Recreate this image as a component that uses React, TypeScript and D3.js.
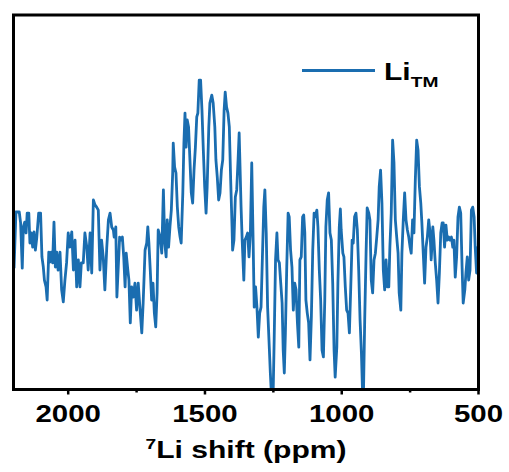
import React from "react";
import * as d3 from "d3";

// 7Li shift (ppm)
const shiftPpm: number[] = [
  2198, 2191, 2179, 2174, 2168, 2164, 2159, 2154, 2150, 2144,
  2140, 2135, 2130, 2125, 2120, 2115, 2108, 2101, 2096, 2091,
  2087, 2081, 2077, 2071, 2067, 2062, 2057, 2052, 2047, 2042,
  2037, 2030, 2024, 2018, 2012, 2006, 2000, 1994, 1987, 1981,
  1975, 1969, 1963, 1957, 1952, 1945, 1939, 1932, 1927, 1920,
  1914, 1908, 1902, 1896, 1890, 1884, 1878, 1872, 1866, 1859,
  1853, 1847, 1841, 1835, 1832, 1826, 1822, 1817, 1812, 1807,
  1802, 1797, 1792, 1788, 1782, 1778, 1773, 1768, 1762, 1756,
  1750, 1744, 1738, 1731, 1726, 1719, 1713, 1709, 1705, 1700,
  1695, 1690, 1685, 1680, 1675, 1671, 1664, 1658, 1652, 1647,
  1642, 1638, 1633, 1628, 1623, 1618, 1616, 1611, 1606, 1601,
  1596, 1591, 1587, 1581, 1577, 1573, 1569, 1565, 1560, 1555,
  1550, 1545, 1540, 1535, 1530, 1526, 1521, 1516, 1511, 1506,
  1501, 1496, 1492, 1486, 1482, 1475, 1470, 1464, 1460, 1455,
  1450, 1445, 1440, 1435, 1430, 1426, 1421, 1416, 1411, 1406,
  1401, 1399, 1394, 1389, 1384, 1379, 1375, 1368, 1364, 1358,
  1354, 1349, 1344, 1339, 1334, 1329, 1324, 1320, 1315, 1310,
  1305, 1300, 1295, 1290, 1285, 1281, 1276, 1271, 1266, 1261,
  1256, 1251, 1247, 1242, 1237, 1233, 1228, 1223, 1218, 1214,
  1210, 1206, 1201, 1196, 1192, 1187, 1182, 1177, 1172, 1167,
  1162, 1157, 1155, 1153, 1148, 1143, 1139, 1135, 1131, 1126,
  1121, 1116, 1111, 1106, 1101, 1097, 1091, 1087, 1082, 1077,
  1072, 1067, 1062, 1058, 1053, 1048, 1043, 1038, 1033, 1028,
  1024, 1018, 1014, 1009, 1005, 1002, 996, 992, 987, 982,
  977, 972, 967, 962, 958, 953, 948, 943, 938, 933,
  928, 923, 921, 916, 911, 907, 901, 897, 892, 887,
  882, 877, 872, 867, 863, 858, 853, 848, 843, 838,
  833, 828, 824, 819, 814, 809, 804, 799, 794, 790,
  784, 780, 775, 770, 765, 760, 755, 750, 746, 741,
  736, 731, 726, 721, 716, 711, 707, 702, 697, 692,
  687, 682, 677, 673, 667, 663, 658, 653, 648, 643,
  638, 633, 629, 624, 619, 614, 609, 604, 599, 594,
  590, 585, 580, 575, 570, 565, 560, 556, 550, 546,
  541, 536, 531, 526, 521, 516, 512, 507, 502, 500,
];

// Intensity (a.u.)
const intensity: number[] = [
  32.4, 47.4, 47.4, 44.5, 32.4, 43.4, 44.7, 41.8, 47.1, 47.1,
  39.1, 41.8, 38.0, 42.1, 37.2, 40.5, 47.1, 47.1, 35.4, 32.7,
  29.2, 27.4, 23.9, 36.7, 34.0, 36.7, 33.8, 44.7, 32.7, 36.7,
  31.9, 36.7, 26.6, 23.4, 29.2, 33.8, 41.8, 38.0, 42.1, 31.9,
  39.9, 27.4, 34.6, 27.4, 33.8, 33.8, 41.8, 38.0, 31.9, 41.8,
  31.1, 50.6, 49.3, 48.7, 47.9, 31.9, 39.9, 35.4, 26.6, 38.0,
  45.3, 47.1, 43.4, 42.6, 40.7, 43.4, 24.7, 32.7, 40.7, 39.9,
  40.7, 35.4, 27.4, 36.4, 31.9, 29.2, 17.8, 27.4, 24.7, 28.4,
  21.2, 28.4, 22.0, 15.1, 23.1, 37.2, 39.1, 43.4, 39.1, 31.9,
  23.9, 28.4, 20.4, 16.7, 25.8, 42.6, 40.7, 36.4, 53.3, 39.1,
  35.4, 45.3, 38.0, 43.4, 47.9, 57.8, 65.8, 59.4, 57.8, 48.7,
  43.4, 40.7, 39.1, 52.5, 65.8, 73.8, 64.7, 72.0, 70.1, 61.3,
  52.5, 49.8, 58.6, 64.7, 72.8, 73.8, 82.6, 82.6, 74.6, 63.9,
  54.1, 47.1, 54.1, 70.1, 76.5, 78.6, 76.5, 70.1, 61.3, 56.7,
  50.6, 52.5, 58.6, 61.3, 74.6, 79.4, 75.4, 73.8, 70.1, 55.9,
  43.4, 37.2, 39.9, 51.4, 53.3, 61.3, 68.5, 48.7, 39.9, 29.2,
  39.9, 40.7, 41.8, 35.4, 41.8, 60.5, 39.9, 22.0, 27.4, 22.0,
  14.0, 20.4, 22.0, 35.4, 48.7, 53.3, 41.8, 22.0, 13.2, 4.4,
  -3, -2, 13.2, 34.6, 41.8, 34.6, 33.8, 28.4, 23.1, 10.5,
  4.4, 15.1, 32.7, 47.1, 46.1, 37.2, 32.7, 21.2, 28.4, 26.6,
  17.8, 11.3, 23.1, 34.6, 35.4, 46.1, 46.6, 41.8, 23.9, 20.4,
  17.8, 7.9, 19.4, 37.2, 47.1, 46.1, 47.9, 43.4, 31.9, 23.9,
  10.5, 8.7, 23.9, 43.4, 50.6, 52.5, 41.8, 39.9, 28.4, 10.5,
  3.3, 11.3, 28.4, 43.4, 48.2, 42.6, 36.4, 35.4, 27.4, 21.2,
  20.4, 15.1, 27.4, 39.9, 39.1, 46.1, 47.1, 42.6, 31.9, 18.6,
  9.7, -3, -3, 18.6, 36.4, 48.5, 47.1, 45.3, 29.2, 25.8,
  34.6, 36.4, 40.7, 45.3, 54.1, 58.6, 49.8, 31.9, 26.6, 34.6,
  27.4, 27.4, 38.0, 47.1, 66.6, 60.5, 45.3, 40.7, 36.4, 25.8,
  21.2, 36.4, 45.3, 52.5, 45.3, 42.6, 40.7, 38.0, 36.4, 45.3,
  41.8, 55.9, 66.6, 63.9, 54.1, 49.8, 44.5, 36.4, 28.4, 38.0,
  40.7, 45.3, 41.8, 34.6, 43.4, 39.9, 33.8, 29.2, 23.1, 31.1,
  41.8, 44.5, 44.5, 38.0, 43.9, 39.9, 40.7, 39.9, 40.7, 38.0,
  39.9, 30.0, 35.4, 46.1, 48.7, 47.1, 32.7, 23.1, 26.6, 31.1,
  35.4, 29.2, 31.9, 47.9, 48.7, 46.1, 38.0, 31.1, 38.0, 37.2,
];

const majorTicks: number[] = [2000, 1500, 1000, 500];
const minorTicks: number[] = [1750, 1250, 750];
const seriesName = "Li";
const seriesSub = "TM";
const xTitleSup = "7";
const xTitle = "Li shift (ppm)";

const W = 509;
const H = 472;
const left = 13.5;
const right = 478.5;
const top = 15;
const bottom = 389.5;
const color = "#1a6db0";
const font = "'Liberation Sans', Arial, Helvetica, sans-serif";
const sx = 1.28; // horizontal stretch of the text in the reference

export default function App() {
  const x = d3.scaleLinear().domain([2200, 500]).range([left, right]);
  const y = d3.scaleLinear().domain([0, 100]).range([bottom, top]);
  const n = Math.min(shiftPpm.length, intensity.length);
  const data = d3.range(n).map((i) => [shiftPpm[i], intensity[i]] as [number, number]);
  const line = d3
    .line<[number, number]>()
    .x((d) => x(d[0]))
    .y((d) => y(d[1]));

  return (
    <svg
      width={W}
      height={H}
      style={{ position: "absolute", left: 0, top: 0, background: "#fff" }}
    >
      <defs>
        <clipPath id="plotClip">
          <rect x={left} y={top} width={right - left} height={bottom - top} />
        </clipPath>
      </defs>
      <path
        d={line(data) || ""}
        fill="none"
        stroke={color}
        strokeWidth={2.8}
        strokeLinejoin="round"
        clipPath="url(#plotClip)"
      />
      <rect
        x={left}
        y={top}
        width={right - left}
        height={bottom - top}
        fill="none"
        stroke="#000"
        strokeWidth={3}
      />
      {majorTicks.map((t) => (
        <line key={"M" + t} x1={x(t)} x2={x(t)} y1={bottom} y2={bottom + 5} stroke="#000" strokeWidth={2.5} />
      ))}
      {minorTicks.map((t) => (
        <line key={"m" + t} x1={x(t)} x2={x(t)} y1={bottom} y2={bottom + 3} stroke="#000" strokeWidth={2.5} />
      ))}
      {majorTicks.map((t) => (
        <g key={"L" + t} transform={`translate(${x(t)},${421.5}) scale(${sx},1)`}>
          <text x={0} y={0} textAnchor="middle" fontFamily={font} fontWeight="bold" fontSize={23} fill="#000">
            {t}
          </text>
        </g>
      ))}
      <g transform={`translate(${(left + right) / 2},${458}) scale(${sx},1)`}>
        <text x={0} y={0} textAnchor="middle" fontFamily={font} fontWeight="bold" fontSize={23.5} fill="#000">
          <tspan fontSize={15} dy={-9}>{xTitleSup}</tspan>
          <tspan dy={9}>{xTitle}</tspan>
        </text>
      </g>
      <line x1={302} x2={375} y1={70.5} y2={70.5} stroke={color} strokeWidth={2.8} />
      <g transform={`translate(384,80) scale(${sx},1)`}>
        <text x={0} y={0} fontFamily={font} fontWeight="bold" fontSize={23.5} fill="#000">
          {seriesName}
          <tspan fontSize={15} dy={7}>{seriesSub}</tspan>
        </text>
      </g>
    </svg>
  );
}
